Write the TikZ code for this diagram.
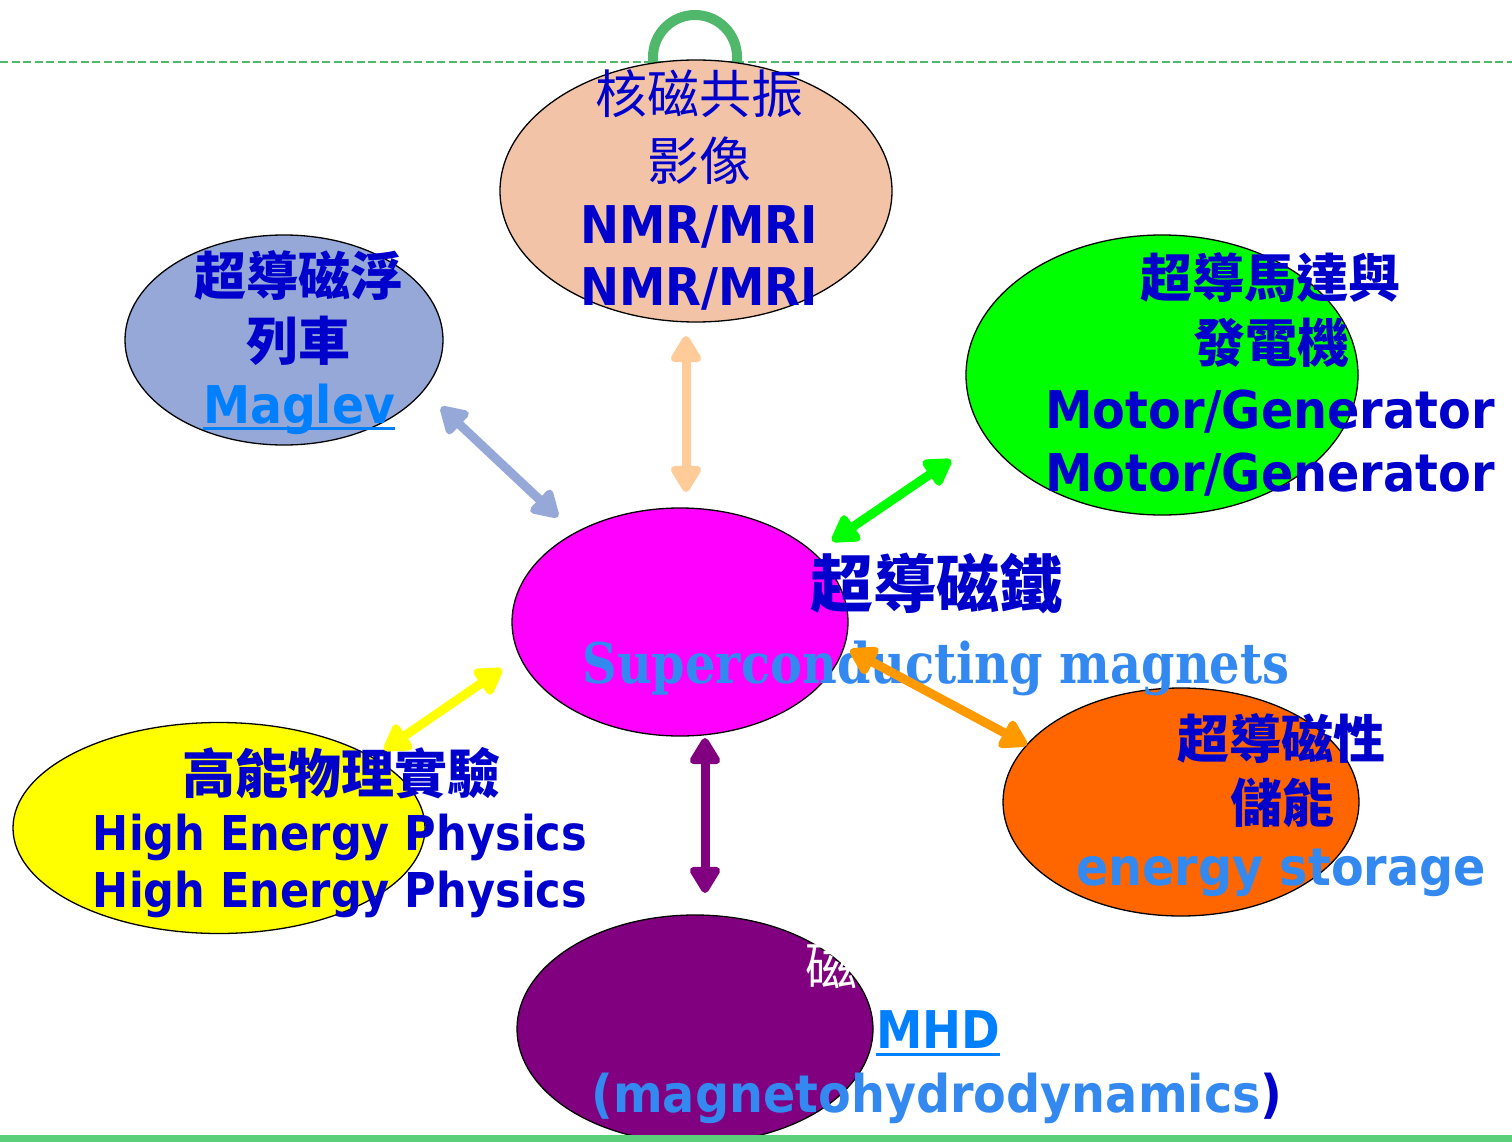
\documentclass[tikz,border=0pt]{standalone}
\usepackage{fontspec}
\usetikzlibrary{shapes.geometric,arrows.meta}
\newfontfamily\cjk{Noto Sans CJK TC}
\newfontfamily\dvs{DejaVu Sans}
\newfontfamily\dvserif{DejaVu Serif}
\definecolor{dblue}{RGB}{0,0,204}
\definecolor{lblue}{RGB}{51,137,240}
\definecolor{linkblue}{RGB}{0,128,255}
\definecolor{peachfill}{RGB}{242,195,166}
\definecolor{maglevfill}{RGB}{149,168,216}
\definecolor{motorgreen}{RGB}{0,255,0}
\definecolor{magentafill}{RGB}{255,0,255}
\definecolor{yellowfill}{RGB}{255,255,0}
\definecolor{orangefill}{RGB}{255,102,0}
\definecolor{purplefill}{RGB}{128,0,128}
\definecolor{peacharrow}{RGB}{255,204,153}
\definecolor{orangearrow}{RGB}{255,153,0}
\definecolor{dashgreen}{RGB}{80,184,106}
\definecolor{bargreen}{RGB}{92,207,122}
\newcommand{\fitw}[2]{\resizebox{#1}{\height}{#2}}
\tikzset{
  ell/.style={ellipse, draw=black, line width=1.3pt, inner sep=0pt},
  cjb/.style={font=\cjk\bfseries\fontsize{52}{60}\selectfont, text=dblue, inner sep=0pt, anchor=base},
  cjr/.style={font=\cjk\fontsize{52}{60}\selectfont, text=dblue, inner sep=0pt, anchor=base},
  lat/.style={font=\dvs\bfseries\fontsize{52}{60}\selectfont, inner sep=0pt, anchor=base},
  dblarrow/.style={line width=9pt, {Triangle[width=34pt,length=30pt,round]}-{Triangle[width=34pt,length=30pt,round]}}
}
\begin{document}
\begin{tikzpicture}[x=1pt,y=-1pt]
\useasboundingbox (0,0) rectangle (1512,1142);
\fill[white] (0,0) rectangle (1512,1142);
% top decoration
\draw[dashgreen, line width=1.3pt, dash pattern=on 8pt off 3.5pt] (0,62) -- (1512,62);
\draw[dashgreen, line width=10pt] (653,66) -- (653,57) arc[start angle=180, end angle=360, radius=42] -- (737,66);
% ellipses
\node[ell, fill=peachfill, minimum width=392pt, minimum height=262pt] (nmr) at (696,191) {};
\node[ell, fill=maglevfill, minimum width=318pt, minimum height=210pt] (maglev) at (284,340) {};
\node[ell, fill=motorgreen, minimum width=392pt, minimum height=280pt] (motor) at (1162,375) {};
\node[ell, fill=magentafill, minimum width=336pt, minimum height=228pt] (center) at (680,622) {};
\node[ell, fill=orangefill, minimum width=356pt, minimum height=228pt] (storage) at (1181,802) {};
\node[ell, fill=yellowfill, minimum width=412pt, minimum height=211pt] (hep) at (219,828) {};
\node[ell, fill=purplefill, minimum width=356pt, minimum height=228pt] (mhd) at (695,1029) {};
% NMR texts
\node[cjr] (nmr1) at (699,114) {核磁共振};
\node[cjr] (nmr2) at (699,181) {影像};
\node[lat, text=dblue] (nmr3) at (699,243) {\fitw{238pt}{NMR/MRI}};
\node[lat, text=dblue] (nmr4) at (699,305) {\fitw{238pt}{NMR/MRI}};
% Maglev texts
\node[cjb] (mag1) at (298,295) {超導磁浮};
\node[cjb] (mag2) at (298,360) {列車};
\node[lat, text=linkblue] (mag3) at (299,423) {\fitw{192pt}{Maglev}};
\draw[linkblue, line width=3pt] ([yshift=-5pt]mag3.base west) -- ([yshift=-5pt]mag3.base east);
% Motor texts
\node[cjb] (mot1) at (1270,297) {超導馬達與};
\node[cjb] (mot2) at (1271,362) {發電機};
\node[lat, text=dblue] (mot3) at (1270,428) {\fitw{450pt}{Motor/Generator}};
\node[lat, text=dblue] (mot4) at (1270,491) {\fitw{450pt}{Motor/Generator}};
% Center texts
\node[cjb, font=\cjk\bfseries\fontsize{63}{70}\selectfont] (cen1) at (936,607) {超導磁鐵};
\node[inner sep=0pt, anchor=base, text=lblue, font=\dvserif\bfseries\fontsize{56}{64}\selectfont] (cen2) at (936,683) {\fitw{707pt}{Superconducting magnets}};
% Storage texts
\node[cjb] (sto1) at (1281,758) {超導磁性};
\node[cjb] (sto2) at (1282,822) {儲能};
\node[lat, text=lblue] (sto3) at (1281,885) {\fitw{410pt}{energy storage}};
% HEP texts
\node[cjb, font=\cjk\bfseries\fontsize{53}{60}\selectfont] (hep1) at (341,793) {高能物理實驗};
\node[lat, text=dblue, font=\dvs\bfseries\fontsize{48}{56}\selectfont] (hep2) at (340,850) {\fitw{494pt}{High Energy Physics}};
\node[lat, text=dblue, font=\dvs\bfseries\fontsize{48}{56}\selectfont] (hep3) at (340,907) {\fitw{494pt}{High Energy Physics}};
% MHD texts
\node[cjr, text=white] (mhd1) at (831,985) {磁};
\node[lat, text=linkblue] (mhd2) at (938,1048) {\fitw{124pt}{MHD}};
\draw[linkblue, line width=3pt] ([yshift=-6pt]mhd2.base west) -- ([yshift=-6pt]mhd2.base east);
\node[lat, text=lblue] (mhd3) at (937,1112) {\fitw{691pt}{(magnetohydrodynamics\textcolor{dblue}{)}}};
% arrow end points
\coordinate (a1s) at (441,407); \coordinate (a1e) at (558,517);
\coordinate (a2s) at (686,336); \coordinate (a2e) at (686,492);
\coordinate (a3s) at (832,541); \coordinate (a3e) at (951,460);
\coordinate (a4s) at (384,750); \coordinate (a4e) at (502,669);
\coordinate (a5s) at (705,738); \coordinate (a5e) at (705,893);
\coordinate (a6s) at (850,650); \coordinate (a6e) at (1027,745);
\draw[dblarrow, maglevfill] (a1s) -- (a1e);
\draw[dblarrow, peacharrow] (a2s) -- (a2e);
\draw[dblarrow, motorgreen] (a3s) -- (a3e);
\draw[dblarrow, yellowfill] (a4s) -- (a4e);
\draw[dblarrow, purplefill] (a5s) -- (a5e);
\draw[dblarrow, orangearrow] (a6s) -- (a6e);
% bottom bar
\fill[bargreen] (0,1135) rectangle (1512,1142);
\end{tikzpicture}
\end{document}
